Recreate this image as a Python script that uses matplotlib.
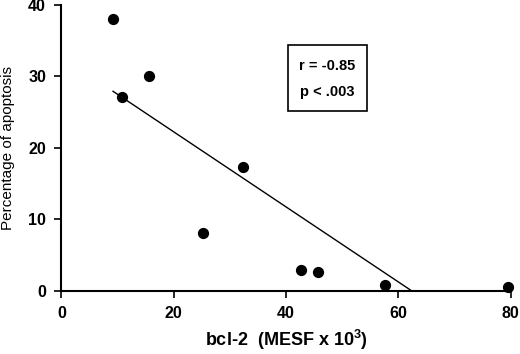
import matplotlib
matplotlib.use("Agg")
import matplotlib.pyplot as plt
from matplotlib.patches import Rectangle
import numpy as np

plt.rcParams['font.family'] = ['Liberation Sans', 'DejaVu Sans']

# bcl-2 (MESF x 10^3) vs percentage of apoptosis
bcl2 = [9.2, 10.8, 15.6, 25.2, 32.4, 42.7, 45.7, 57.7, 79.5]
apoptosis = [38.0, 27.1, 30.1, 8.1, 17.4, 2.9, 2.6, 0.8, 0.5]
x_ticks = [0, 20, 40, 60, 80]
y_ticks = [0, 10, 20, 30, 40]
stats_lines = ["r = -0.85", "p < .003"]

fig = plt.figure(figsize=(5.2, 3.54), dpi=100)
ax = fig.add_axes([0.118, 0.178, 0.864, 0.808])

ax.scatter(bcl2, apoptosis, s=50, color="black", zorder=3, clip_on=False)

# least squares line, from the smallest x down to where it reaches 0
slope, intercept = np.polyfit(bcl2, apoptosis, 1)
x0 = min(bcl2)
x1 = -intercept / slope
ax.plot([x0, x1], [slope * x0 + intercept, 0], color="black", lw=1.0)

ax.set_xlim(0, 80)
ax.set_ylim(0, 40)
ax.set_xticks(x_ticks)
ax.set_yticks(y_ticks)
for side in ["top", "right"]:
    ax.spines[side].set_visible(False)
for side in ["left", "bottom"]:
    ax.spines[side].set_linewidth(1.5)
ax.tick_params(length=5, width=1.2, labelsize=11.5, pad=6)
for lab in ax.get_xticklabels() + ax.get_yticklabels():
    lab.set_fontweight("bold")

ax.set_xlabel("bcl-2  (MESF x 10$^\\mathregular{3}$)", fontsize=13,
              fontweight="bold", va="center")
ax.xaxis.set_label_coords(0.5, -0.172)
ax.set_ylabel("Percentage of apoptosis", fontsize=11, va="center")
ax.yaxis.set_label_coords(-0.119, 0.5)

# box with the statistics
ax.add_patch(Rectangle((40.3, 25.2), 14.1, 9.2, fill=False, lw=1.2,
                       edgecolor="black"))
ax.text(47.35, 31.5, stats_lines[0], ha="center", va="center",
        fontsize=10.5, fontweight="bold")
ax.text(47.35, 27.8, stats_lines[1], ha="center", va="center",
        fontsize=10.5, fontweight="bold")

fig.savefig("out.png", dpi=100)
